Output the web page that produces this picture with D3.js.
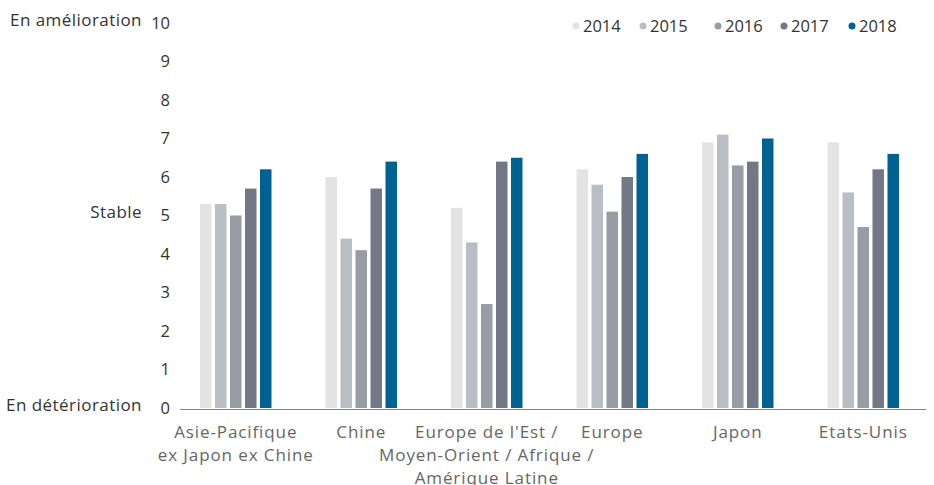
<!DOCTYPE html>
<html>
<head>
<meta charset="utf-8">
<script src="https://cdn.jsdelivr.net/npm/d3@7"></script>
<style>
	body { margin: 0; background: #fff; }
	text { font-family: "Open Sans", sans-serif; }
	.word { font-size: 17px; letter-spacing: 0.9px; }
	.side { font-size: 17px; letter-spacing: 0.45px; }
</style>
</head>
<body>
<svg id="chart" width="934" height="485"></svg>
<script>
var regions = ["Asie-Pacifique|ex Japon ex Chine", "Chine", "Europe de l'Est /|Moyen-Orient / Afrique /|Amérique Latine", "Europe", "Japon", "Etats-Unis"];
var years = ["2014", "2015", "2016", "2017", "2018"];
var colors = ["#e3e3e4", "#b9bdc4", "#979ca5", "#727886", "#006193"];

var v2014 = [5.3, 6.0, 5.2, 6.2, 6.9, 6.9];
var v2015 = [5.3, 4.4, 4.3, 5.8, 7.1, 5.6];
var v2016 = [5.0, 4.1, 2.7, 5.1, 6.3, 4.7];
var v2017 = [5.7, 5.7, 6.4, 6.0, 6.4, 6.2];
var v2018 = [6.2, 6.4, 6.5, 6.6, 7.0, 6.6];
var series = [v2014, v2015, v2016, v2017, v2018];

var yTicks = [0, 1, 2, 3, 4, 5, 6, 7, 8, 9, 10];
var sideLabels = [["En amélioration", 10], ["Stable", 5], ["En détérioration", 0]];

var svg = d3.select("#chart");

var x0 = d3.scaleBand().domain(d3.range(regions.length)).range([173, 926]).padding(0);
var gw = 71.5;
var x1 = d3.scaleBand().domain(years)
	.range([(x0.bandwidth() - gw) / 2, (x0.bandwidth() + gw) / 2])
	.paddingInner(0.233).paddingOuter(0);
var y = d3.scaleLinear().domain([0, 10]).range([408, 23]);

// bars
var groups = svg.append("g").selectAll("g")
	.data(regions)
	.enter().append("g")
	.attr("transform", function(d, i){ return "translate(" + x0(i) + ",0)"; });

groups.selectAll("rect")
	.data(function(d, i){ return years.map(function(yr, j){ return {year: yr, j: j, v: series[j][i]}; }); })
	.enter().append("rect")
	.attr("x", function(d){ return x1(d.year); })
	.attr("width", x1.bandwidth())
	.attr("y", function(d){ return y(d.v); })
	.attr("height", function(d){ return y(0) - y(d.v); })
	.attr("fill", function(d){ return colors[d.j]; });

// x axis line
svg.append("line")
	.attr("x1", 180).attr("x2", 926)
	.attr("y1", y(0) + 1.5).attr("y2", y(0) + 1.5)
	.attr("stroke", "#7c8496").attr("stroke-width", 1.2);

// y tick labels
svg.append("g").selectAll("text")
	.data(yTicks)
	.enter().append("text")
	.attr("x", 170)
	.attr("y", function(d){ return y(d); })
	.attr("dy", "0.35em")
	.attr("text-anchor", "end")
	.attr("font-size", "16.5px")
	.attr("fill", "#333")
	.text(function(d){ return d; });

// side labels
svg.append("g").selectAll("text")
	.data(sideLabels)
	.enter().append("text")
	.attr("class", "side")
	.attr("x", 142)
	.attr("y", function(d){ return y(d[1]) - 3; })
	.attr("dy", "0.35em")
	.attr("text-anchor", "end")
	.attr("fill", "#333")
	.text(function(d){ return d[0]; });

// x labels
var xl = svg.append("g").selectAll("text")
	.data(regions)
	.enter().append("text")
	.attr("class", "word")
	.attr("text-anchor", "middle")
	.attr("fill", "#666")
	.attr("transform", function(d, i){ return "translate(" + (x0(i) + x0.bandwidth() / 2) + ",438)"; });

xl.selectAll("tspan")
	.data(function(d){ return d.split("|"); })
	.enter().append("tspan")
	.attr("x", 0)
	.attr("y", function(d, i){ return i * 23; })
	.text(function(d){ return d; });

// legend
var legX = [576, 643, 718, 784, 852];
var leg = svg.append("g").selectAll("g")
	.data(years)
	.enter().append("g")
	.attr("transform", function(d, i){ return "translate(" + legX[i] + ",26)"; });
leg.append("circle").attr("r", 3.5).attr("fill", function(d, i){ return colors[i]; });
leg.append("text")
	.attr("x", 7).attr("dy", "0.35em")
	.attr("font-size", "16.5px").attr("fill", "#333")
	.text(function(d){ return d; });
</script>
</body>
</html>
